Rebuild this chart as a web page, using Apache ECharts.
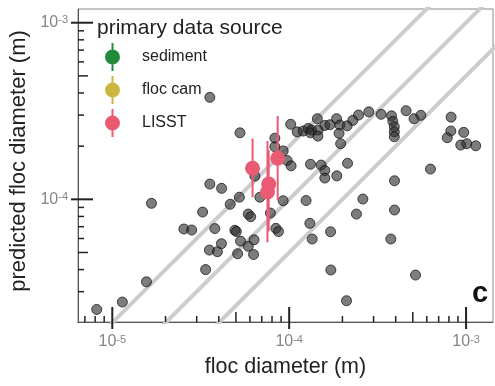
<!DOCTYPE html>
<html><head><meta charset="utf-8">
<script src="https://cdn.jsdelivr.net/npm/echarts@6/dist/echarts.min.js"></script>
<style>html,body{margin:0;padding:0;background:#fff}#c{width:495px;height:386px}</style>
</head><body><div id="c"></div>
<script>
const FONT = '"Liberation Sans", Arial, Helvetica, sans-serif';
const xMin = 6.4e-6, xMax = 1.42e-3, yMin = 2.02e-5, yMax = 1.196e-3;

// gray points: observed floc diameter (m) vs predicted floc diameter (m)
const flocDiameter = [
  8.17e-6, 1.14e-5, 1.56e-5, 1.665e-5, 2.54e-5, 2.81e-5, 3.24e-5, 3.37e-5, 3.56e-5, 3.56e-5,
  3.54e-5, 3.80e-5, 3.93e-5, 4.15e-5, 4.14e-5, 4.64e-5, 4.93e-5, 5.03e-5, 5.11e-5, 5.23e-5,
  5.27e-5, 5.31e-5, 5.87e-5, 6.06e-5, 5.87e-5, 6.29e-5, 6.33e-5, 6.40e-5, 6.83e-5, 7.83e-5,
  8.30e-5, 8.30e-5, 8.41e-5, 8.70e-5, 9.25e-5, 9.74e-5, 9.25e-5, 1.02e-4, 1.025e-4, 1.11e-4,
  1.20e-4, 1.28e-4, 1.338e-4, 1.32e-4, 1.443e-4, 1.458e-4, 1.453e-4, 1.59e-4, 1.70e-4, 1.853e-4,
  1.934e-4, 1.914e-4, 2.127e-4, 2.29e-4, 2.467e-4, 2.82e-4, 3.31e-4, 3.79e-4, 3.855e-4, 3.93e-4,
  3.93e-4, 3.93e-4, 4.58e-4, 5.08e-4, 5.55e-4, 8.23e-4, 8.20e-4, 7.83e-4, 9.70e-4, 9.33e-4,
  1.009e-3, 1.134e-3, 1.954e-4, 1.32e-4, 1.516e-4, 1.59e-4, 1.59e-4, 1.86e-4, 2.138e-4, 6.29e-4,
  3.94e-4, 1.246e-4, 2.61e-4, 2.40e-4, 3.94e-4, 1.309e-4, 1.714e-4, 1.349e-4, 3.755e-4, 1.72e-4,
  5.18e-4, 2.11e-4
];
const predictedDiameter = [
  2.38e-5, 2.62e-5, 3.41e-5, 9.49e-5, 6.79e-5, 6.70e-5, 8.47e-5, 4.00e-5, 3.78e-4, 1.22e-4,
  5.16e-5, 6.83e-5, 5.05e-5, 1.154e-4, 5.61e-5, 9.37e-5, 6.68e-5, 6.57e-5, 4.92e-5, 1.028e-4,
  2.38e-4, 5.80e-5, 8.25e-5, 7.97e-5, 5.42e-5, 4.87e-5, 5.90e-5, 1.354e-4, 1.028e-4, 8.36e-5,
  2.22e-4, 1.985e-4, 6.85e-5, 6.57e-5, 1.88e-4, 1.659e-4, 9.82e-5, 2.66e-4, 1.548e-4, 2.41e-4,
  2.436e-4, 2.52e-4, 2.47e-4, 2.38e-4, 2.86e-4, 2.47e-4, 2.28e-4, 2.62e-4, 2.645e-4, 2.86e-4,
  2.635e-4, 2.363e-4, 2.607e-4, 2.80e-4, 3.00e-4, 3.13e-4, 3.03e-4, 2.97e-4, 2.765e-4, 2.576e-4,
  2.41e-4, 2.26e-4, 3.175e-4, 2.86e-4, 2.99e-4, 2.92e-4, 2.436e-4, 2.233e-4, 2.394e-4, 2.03e-4,
  2.065e-4, 2.01e-4, 2.065e-4, 1.58e-4, 1.563e-4, 1.455e-4, 1.32e-4, 1.358e-4, 1.60e-4, 1.484e-4,
  1.274e-4, 9.84e-5, 1.004e-4, 8.25e-5, 8.70e-5, 7.31e-5, 6.55e-5, 5.96e-5, 5.96e-5, 3.98e-5,
  3.725e-5, 2.666e-5
];

// LISST points with error bars
const lisstFloc = [6.21e-5, 7.54e-5, 7.66e-5, 8.61e-5];
const lisstPredicted = [1.50e-4, 1.10e-4, 1.22e-4, 1.71e-4];
const lisstLow = [1.03e-4, 5.71e-5, 6.6e-5, 9.9e-5];
const lisstHigh = [2.21e-4, 2.14e-4, 1.9e-4, 2.97e-4];

// empty sources (legend only)
const sedimentFloc = [];
const sedimentPredicted = [];
const flocCamFloc = [];
const flocCamPredicted = [];

// reference lines: predicted = ratio * observed
const refRatios = [2, 1, 0.5];
const refX = [1e-6, 1e-2];

// axis tick positions
const xMajorTicks = [1e-5, 1e-4, 1e-3];
const xMidTicks = [5e-5, 5e-4];
const xMinorTicks = [7e-6, 8e-6, 9e-6, 2e-5, 3e-5, 4e-5, 6e-5, 7e-5, 8e-5, 9e-5,
  2e-4, 3e-4, 4e-4, 6e-4, 7e-4, 8e-4, 9e-4];
const yMajorTicks = [1e-4, 1e-3];
const yMidTicks = [5e-5, 5e-4];
const yMinorTicks = [3e-5, 4e-5, 6e-5, 7e-5, 8e-5, 9e-5, 2e-4, 3e-4, 4e-4, 6e-4, 7e-4, 8e-4, 9e-4];

const legendNames = ['sediment', 'floc cam', 'LISST'];
const colors = {sediment: '#228B3B', floc: '#CDB640', lisst: '#EA5A72'};

const pair = (xs, ys) => xs.map((x, i) => [x, ys[i]]);
const tickData = (maj, mid, min) =>
  maj.map(v => [v, 0]).concat(mid.map(v => [v, 1]), min.map(v => [v, 2]));

const TICK_IN = [15, 10, 6], TICK_OUT = [7, 0, 0];

function powLabel(v) {
  const e = Math.log10(v);
  const r = Math.round(e);
  if (Math.abs(e - r) > 1e-6) return '';
  return '{b|10}{s|' + r + '}';
}
const labelRich = {
  b: {fontSize: 16, color: '#858585', fontFamily: FONT},
  s: {fontSize: 11, color: '#858585', fontFamily: FONT, verticalAlign: 'top'}
};

const chart = echarts.init(document.getElementById('c'), null, {renderer: 'canvas'});
const legendIcon = 'path://M6.5,0H8.5V7H6.5Z M6.5,21H8.5V28H6.5Z M0,14A7.5,7.5,0,1,1,15,14A7.5,7.5,0,1,1,0,14Z';

const series = [];
refRatios.forEach((r, i) => {
  series.push({
    type: 'line', name: 'ref' + i, silent: true, showSymbol: false, z: 1,
    data: refX.map(x => [x, r * x]),
    lineStyle: {color: '#cccccc', width: 4}
  });
});
series.push({
  type: 'scatter', name: 'all', z: 3, symbolSize: 10,
  data: pair(flocDiameter, predictedDiameter),
  itemStyle: {color: 'rgba(45,45,45,0.62)', borderColor: 'rgba(20,20,20,0.75)', borderWidth: 1, opacity: 1}
});
series.push({type: 'scatter', name: 'sediment', data: pair(sedimentFloc, sedimentPredicted), itemStyle: {color: colors.sediment, opacity: 1}});
series.push({type: 'scatter', name: 'floc cam', data: pair(flocCamFloc, flocCamPredicted), itemStyle: {color: colors.floc, opacity: 1}});
series.push({
  type: 'custom', name: 'LISST err', coordinateSystem: 'cartesian2d', z: 4, silent: true,
  data: lisstFloc.map((x, i) => [x, lisstLow[i], lisstHigh[i]]),
  renderItem: (params, api) => {
    const a = api.coord([api.value(0), api.value(1)]);
    const b = api.coord([api.value(0), api.value(2)]);
    return {type: 'line', shape: {x1: a[0], y1: a[1], x2: b[0], y2: b[1]},
      style: {stroke: colors.lisst, lineWidth: 2}};
  }
});
series.push({
  type: 'scatter', name: 'LISST', z: 5, symbolSize: 15,
  data: pair(lisstFloc, lisstPredicted),
  itemStyle: {color: colors.lisst, opacity: 1}
});
series.push({
  type: 'custom', name: 'xticks', coordinateSystem: 'cartesian2d', clip: false, silent: true, z: 6,
  data: tickData(xMajorTicks, xMidTicks, xMinorTicks).map(d => [d[0], yMin, d[1]]),
  renderItem: (params, api) => {
    const p = api.coord([api.value(0), yMin]);
    const k = api.value(2);
    return {type: 'line', shape: {x1: p[0], y1: p[1] + TICK_OUT[k], x2: p[0], y2: p[1] - TICK_IN[k]},
      style: {stroke: '#222', lineWidth: k === 0 ? 2 : 1.5}};
  }
});
series.push({
  type: 'custom', name: 'yticks', coordinateSystem: 'cartesian2d', clip: false, silent: true, z: 6,
  data: tickData(yMajorTicks, yMidTicks, yMinorTicks).map(d => [xMin, d[0], d[1]]),
  renderItem: (params, api) => {
    const p = api.coord([xMin, api.value(1)]);
    const k = api.value(2);
    return {type: 'line', shape: {x1: p[0] - TICK_OUT[k], y1: p[1], x2: p[0] + TICK_IN[k], y2: p[1]},
      style: {stroke: '#222', lineWidth: k === 0 ? 2 : 1.5}};
  }
});

chart.setOption({
  animation: false,
  backgroundColor: '#fff',
  textStyle: {fontFamily: FONT},
  title: {
    text: 'primary data source', left: 97, top: 18, padding: 0,
    textStyle: {fontSize: 21, fontWeight: 'normal', color: '#222', fontFamily: FONT}
  },
  legend: {
    data: legendNames, orient: 'vertical', left: 105, top: 43, padding: 0,
    itemWidth: 15, itemHeight: 28, itemGap: 5, icon: legendIcon, selectedMode: false,
    itemStyle: {opacity: 1},
    textStyle: {fontSize: 16, color: '#222', fontFamily: FONT, padding: [0, 0, 0, 17]}
  },
  grid: {left: 78, right: 2, top: 9, bottom: 64, show: true, borderColor: '#888', borderWidth: 1,
    containLabel: false, outerBoundsMode: 'none'},
  xAxis: {
    type: 'log', logBase: 10, min: xMin, max: xMax,
    name: 'floc diameter (m)', nameLocation: 'middle', nameGap: 34,
    nameTextStyle: {fontSize: 21.5, color: '#222', fontFamily: FONT},
    axisLine: {lineStyle: {color: '#555', width: 1}},
    axisTick: {show: false}, splitLine: {show: false}, minorTick: {show: false},
    axisLabel: {formatter: powLabel, rich: labelRich, margin: 12}
  },
  yAxis: {
    type: 'log', logBase: 10, min: yMin, max: yMax,
    name: 'predicted floc diameter (m)', nameLocation: 'middle', nameGap: 41,
    nameTextStyle: {fontSize: 22, color: '#222', fontFamily: FONT, padding: [0, 0, 0, 9]},
    axisLine: {lineStyle: {color: '#555', width: 1}},
    axisTick: {show: false}, splitLine: {show: false}, minorTick: {show: false},
    axisLabel: {formatter: powLabel, rich: labelRich, margin: 10}
  },
  graphic: [{
    type: 'text', left: 472, top: 279,
    style: {text: 'c', font: 'bold 29px ' + FONT, fill: '#111'}
  }],
  series: series
});
</script>
</body></html>
